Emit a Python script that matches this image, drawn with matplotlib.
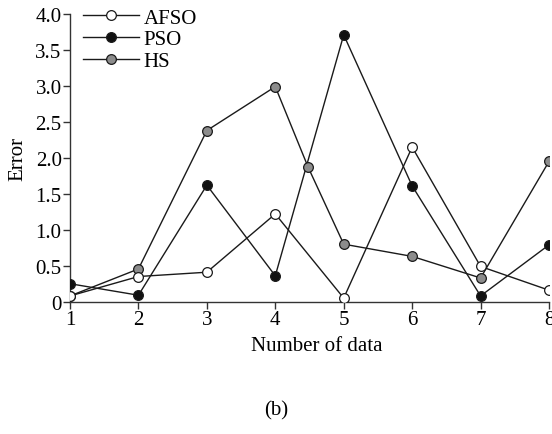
import numpy as np
import matplotlib
matplotlib.use("Agg")
import matplotlib.pyplot as plt

plt.rcParams['font.family'] = ['Liberation Serif', 'DejaVu Serif']

# data
x_data = [1, 2, 3, 4, 5, 6, 7, 8]
afso = [0.08, 0.35, 0.41, 1.22, 0.05, 2.15, 0.49, 0.16]
pso = [0.25, 0.09, 1.62, 0.36, 3.71, 1.61, 0.08, 0.79]
hs_x = [1, 2, 3, 4, 4.48, 5, 6, 7, 8]
hs = [0.08, 0.455, 2.38, 2.99, 1.87, 0.80, 0.63, 0.33, 1.95]
y_ticks = [0, 0.5, 1.0, 1.5, 2.0, 2.5, 3.0, 3.5, 4.0]
y_tick_labels = ['0', '0.5', '1.0', '1.5', '2.0', '2.5', '3.0', '3.5', '4.0']

fs = 15
fig = plt.figure(figsize=(5.52, 4.35), dpi=100)
ax = fig.add_axes([70 / 552, 1 - 302.7 / 435, 479 / 552, 287.7 / 435])

lc = '#1a1a1a'
ax.plot(x_data, afso, '-o', color=lc, lw=1.0, mfc='white', mec=lc, mew=0.9, ms=7, label='AFSO', zorder=5)
ax.plot(x_data, pso, '-o', color=lc, lw=1.0, mfc='#111111', mec=lc, mew=0.9, ms=7, label='PSO', zorder=3)
ax.plot(hs_x, hs, '-o', color=lc, lw=1.0, mfc='#8c8c8c', mec=lc, mew=0.9, ms=7, label='HS', zorder=4)

ax.set_xlim(1, 8)
ax.set_ylim(0, 4.0)
ax.set_xticks(x_data)
ax.set_yticks(y_ticks)
ax.set_yticklabels(y_tick_labels)
for s in ['top', 'right']:
    ax.spines[s].set_visible(False)
for s in ['left', 'bottom']:
    ax.spines[s].set_color('#333333')
    ax.spines[s].set_linewidth(1.0)
ax.tick_params(direction='out', length=5, width=1.0, color='#333333', labelsize=fs, pad=1)

ax.set_ylabel('Error', fontsize=fs)
ax.yaxis.set_label_coords(-0.09, 0.5)
ax.set_xlabel('Number of data', fontsize=fs)
ax.xaxis.set_label_coords(0.515, -0.12)

ax.legend(loc='upper left', bbox_to_anchor=(0.01, 1.05), frameon=False, fontsize=fs,
          handlelength=2.7, handletextpad=0.2, labelspacing=0.1, borderaxespad=0)

fig.text(0.5, 0.055, '(b)', ha='center', va='center', fontsize=fs)

fig.savefig('out.png', dpi=100)
